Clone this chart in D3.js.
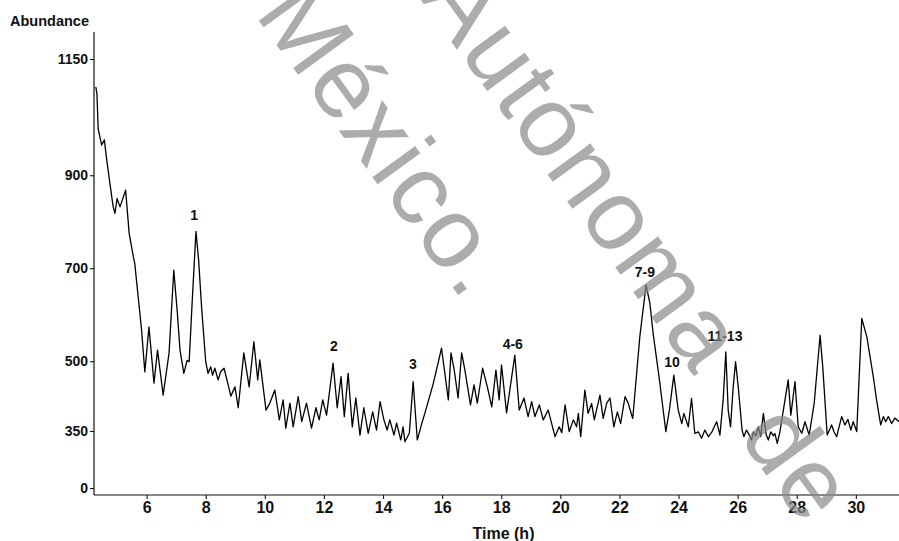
<!DOCTYPE html>
<html>
<head>
<meta charset="utf-8">
<script src="https://cdn.jsdelivr.net/npm/d3@7"></script>
<style>
  body { margin: 0; background: #fff; }
  svg { display: block; }
  .tick text { font-family: "Liberation Sans", Arial, sans-serif; font-weight: bold; fill: #111; }
  .xaxis .tick text { font-family: "Liberation Sans Narrow", "Arial Narrow", "Liberation Sans", sans-serif; }
</style>
</head>
<body>
<div id="chart"></div>
<script>
// time (h) and abundance
var times = [4.28, 4.32, 4.36, 4.48, 4.57, 4.65, 4.82, 4.87, 4.93, 5.00, 5.10, 5.29, 5.41, 5.55, 5.60, 5.83, 5.94,
  6.08, 6.25, 6.37, 6.56, 6.76, 6.92, 7.04, 7.13, 7.26, 7.37, 7.44, 7.54, 7.67, 7.76, 7.86,
  8.00, 8.08, 8.17, 8.23, 8.31, 8.42, 8.51, 8.62, 8.76, 8.85, 8.99, 9.10, 9.29, 9.47, 9.63, 9.76, 9.83,
  10.04, 10.17, 10.34, 10.49, 10.62, 10.71, 10.85, 10.96, 11.13, 11.25, 11.41, 11.58, 11.73, 11.84, 11.96,
  12.09, 12.31, 12.45, 12.58, 12.69, 12.82, 12.96, 13.08, 13.22, 13.35, 13.50, 13.65, 13.78, 13.90,
  14.03, 14.14, 14.23, 14.37, 14.46, 14.60, 14.68, 14.74, 14.89, 15.02, 15.16, 15.31, 15.42, 15.70, 15.98,
  16.21, 16.30, 16.41, 16.54, 16.66, 16.77, 16.96, 17.08, 17.19, 17.37, 17.53, 17.68, 17.82, 17.93,
  18.01, 18.18, 18.46, 18.61, 18.77, 18.91, 19.03, 19.14, 19.29, 19.42, 19.59, 19.82, 19.96,
  20.05, 20.16, 20.30, 20.44, 20.55, 20.61, 20.69, 20.83, 20.94, 21.06, 21.15, 21.34, 21.45, 21.57, 21.68, 21.81, 21.93,
  22.04, 22.19, 22.30, 22.45, 22.69, 22.90, 23.03, 23.14, 23.37, 23.57, 23.69, 23.84, 23.99,
  24.11, 24.18, 24.33, 24.44, 24.55, 24.67, 24.78, 24.89, 25.01, 25.13, 25.29, 25.40, 25.51, 25.60, 25.68, 25.76, 25.85, 25.93,
  26.02, 26.15, 26.21, 26.30, 26.38, 26.47, 26.53, 26.62, 26.70, 26.78, 26.87, 26.96,
  27.04, 27.12, 27.21, 27.26, 27.34, 27.43, 27.71, 27.80, 27.94, 28.05, 28.17, 28.28, 28.42, 28.59, 28.79, 28.88,
  29.03, 29.18, 29.26, 29.35, 29.52, 29.63, 29.73, 29.83, 29.91, 30.03, 30.20, 30.37, 30.59, 30.70, 30.84, 30.93,
  31.01, 31.10, 31.21, 31.32, 31.46];

var abundance = [1090, 1075, 1000, 965, 976, 933, 854, 832, 818, 850, 832, 868, 775, 725, 710, 567, 477,
  574, 453, 524, 427, 518, 696, 604, 524, 474, 502, 499, 625, 779, 718, 617,
  499, 474, 488, 470, 485, 460, 478, 485, 449, 425, 445, 400, 518, 445, 542, 460, 503,
  395, 410, 438, 374, 417, 356, 410, 359, 424, 370, 410, 356, 400, 374, 417,
  384, 496, 400, 467, 381, 474, 359, 421, 325, 400, 336, 391, 352, 413,
  374, 352, 374, 325, 367, 295, 359, 284, 336, 456, 295, 366, 389, 452, 528,
  417, 518, 481, 421, 518, 481, 406, 449, 410, 485, 445, 402, 481, 417,
  492, 389, 513, 395, 421, 381, 413, 381, 406, 374, 395, 315, 359,
  340, 406, 346, 374, 359, 388, 315, 438, 388, 409, 374, 427, 377, 410, 421, 359, 391,
  366, 424, 409, 377, 553, 664, 625, 560, 452, 346, 395, 470, 395,
  366, 388, 359, 420, 336, 345, 305, 352, 315, 345, 370, 325, 417, 520, 395, 359, 445, 499,
  445, 352, 315, 352, 330, 295, 345, 320, 359, 315, 388, 330,
  295, 345, 320, 335, 274, 345, 460, 384, 456, 359, 336, 370, 325, 409, 556, 488,
  325, 363, 345, 315, 381, 363, 375, 352, 370, 346, 592, 553, 467, 417, 363, 381,
  370, 381, 366, 378, 370];

var yTicks = [0, 350, 500, 700, 900, 1150];
var xTicks = [6, 8, 10, 12, 14, 16, 18, 20, 22, 24, 26, 28, 30];

// peak annotations: text, time and level of the text baseline
var peakLabels = ["1", "2", "3", "4-6", "7-9", "10", "11-13"];
var peakLabelTimes = [7.61, 12.34, 15.01, 18.39, 22.86, 23.78, 25.57];
var peakLabelLevels = [804, 522, 483, 526, 681, 488, 544];

var width = 899, height = 541;
var panel = {left: 94, right: 899, top: 32, bottom: 495};

var svg = d3.select("#chart").append("svg")
    .attr("width", width)
    .attr("height", height);

var x = d3.scaleLinear()
    .domain([4.22, 31.46])
    .range([panel.left, panel.right]);

// the y axis is squeezed below 350
var y = d3.scaleLinear()
    .domain([0, 350, 1150])
    .range([488, 431, 59]);

var xAxis = svg.append("g")
    .attr("class", "xaxis")
    .attr("transform", "translate(0," + panel.bottom + ")")
    .call(d3.axisBottom(x).tickValues(xTicks).tickSize(4).tickPadding(3));
xAxis.select(".domain").remove();
xAxis.selectAll(".tick line").attr("stroke", "#111").attr("stroke-width", 1.1);
xAxis.selectAll(".tick text").style("font-size", "16px");

var yAxis = svg.append("g")
    .attr("transform", "translate(" + panel.left + ",0)")
    .call(d3.axisLeft(y).tickValues(yTicks).tickFormat(d3.format("d")).tickSize(4).tickPadding(2));
yAxis.select(".domain").remove();
yAxis.selectAll(".tick line").attr("stroke", "#111").attr("stroke-width", 1.1);
yAxis.selectAll(".tick text").style("font-size", "14px");

// axis lines
svg.append("line")
    .attr("x1", panel.left).attr("x2", panel.left)
    .attr("y1", panel.top).attr("y2", panel.bottom)
    .attr("stroke", "#111").attr("stroke-width", 1.2);
svg.append("line")
    .attr("x1", panel.left).attr("x2", panel.right)
    .attr("y1", panel.bottom).attr("y2", panel.bottom)
    .attr("stroke", "#111").attr("stroke-width", 1.2);

var line = d3.line()
    .x(function(d, i) { return x(times[i]); })
    .y(function(d) { return y(d); });

svg.append("path")
    .datum(abundance)
    .attr("fill", "none")
    .attr("stroke", "#000")
    .attr("stroke-width", 1.3)
    .attr("stroke-linejoin", "round")
    .attr("d", line);

svg.selectAll(".peak")
    .data(peakLabels)
    .enter()
    .append("text")
    .attr("class", "peak")
    .attr("x", function(d, i) { return x(peakLabelTimes[i]); })
    .attr("y", function(d, i) { return y(peakLabelLevels[i]); })
    .attr("text-anchor", "middle")
    .style("font-family", "'Liberation Sans', Arial, sans-serif")
    .style("font-weight", "bold")
    .style("font-size", "14px")
    .style("fill", "#111")
    .text(function(d) { return d; });

svg.append("text")
    .attr("x", 10)
    .attr("y", 26)
    .style("font-family", "'Liberation Sans', Arial, sans-serif")
    .style("font-weight", "bold")
    .style("font-size", "14.5px")
    .style("fill", "#111")
    .text("Abundance");

svg.append("text")
    .attr("x", (panel.left + panel.right) / 2 + 7)
    .attr("y", 539)
    .attr("text-anchor", "middle")
    .style("font-family", "'Liberation Sans Narrow', 'Arial Narrow', 'Liberation Sans', sans-serif")
    .style("font-weight", "bold")
    .style("font-size", "16px")
    .style("fill", "#111")
    .text("Time (h)");

// watermark over the plot
var marks = svg.append("g")
    .style("font-family", "'Liberation Sans', Arial, sans-serif")
    .style("font-size", "100px")
    .style("fill", "#8a8a8a")
    .style("opacity", 0.7);

marks.append("text")
    .attr("transform", "translate(254,14) rotate(54)")
    .style("letter-spacing", "2px")
    .text("México.");

var line2 = marks.append("text")
    .attr("transform", "translate(418,-4) rotate(54)")
    .style("letter-spacing", "2px")
    .text("Autónoma");
line2.append("tspan")
    .attr("dx", 72)
    .text("de");
</script>
</body>
</html>
